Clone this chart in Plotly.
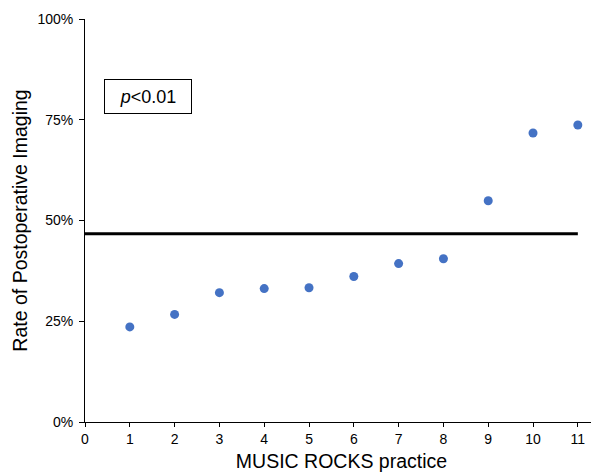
import plotly.graph_objects as go

practices = [1, 2, 3, 4, 5, 6, 7, 8, 9, 10, 11]
imaging_rate = [0.236, 0.267, 0.321, 0.331, 0.333, 0.361, 0.393, 0.405, 0.549, 0.717, 0.737]
mean_x = [0, 11]
mean_rate = [0.467, 0.467]
y_ticks = [0, 0.25, 0.5, 0.75, 1.0]
y_tick_labels = ["0%", "25%", "50%", "75%", "100%"]
x_ticks = list(range(0, 12))

FONT = "Liberation Sans, Arial, sans-serif"

fig = go.Figure()
fig.add_trace(go.Scatter(x=mean_x, y=mean_rate, mode="lines",
                         line=dict(color="black", width=3), showlegend=False,
                         hoverinfo="skip"))
fig.add_trace(go.Scatter(x=practices, y=imaging_rate, mode="markers",
                         marker=dict(color="#4472C4", size=9), showlegend=False))

fig.add_annotation(x=0.123, y=0.807, xref="paper", yref="paper",
                   text="<i>p</i><0.01", showarrow=False,
                   font=dict(family=FONT, size=18, color="black"),
                   bordercolor="black", borderwidth=1, borderpad=0,
                   width=86, height=33, bgcolor="white",
                   xanchor="center", yanchor="middle")

fig.update_layout(
    width=591, height=466,
    margin=dict(l=77, r=1, t=11, b=52),
    plot_bgcolor="white", paper_bgcolor="white",
    font=dict(family=FONT, size=14, color="black"),
    xaxis=dict(range=[0, 11.45], tickvals=x_ticks, showline=True, linecolor="black",
               linewidth=1, ticks="outside", ticklen=4, tickcolor="black",
               showgrid=False, zeroline=False,
               title=dict(text="MUSIC ROCKS practice", font=dict(size=19.5, color="black"),
                          standoff=8),
               tickfont=dict(size=14, color="black")),
    yaxis=dict(range=[0, 1], tickvals=y_ticks, ticktext=y_tick_labels, showline=True,
               linecolor="black", linewidth=1, ticks="outside", ticklen=5,
               tickcolor="black", showgrid=False, zeroline=False,
               ticklabelstandoff=3,
               title=dict(text="Rate of Postoperative Imaging",
                          font=dict(size=19.5, color="black"), standoff=4),
               tickfont=dict(size=14, color="black")),
)

fig.write_html("out.html")
